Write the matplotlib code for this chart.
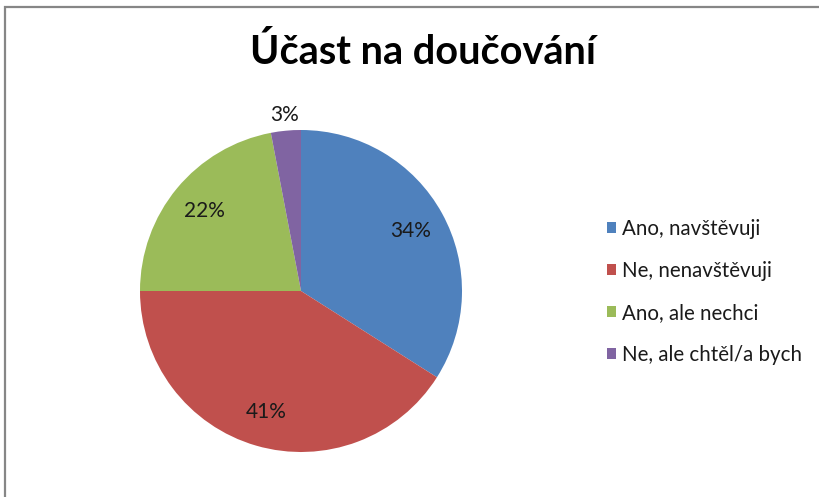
import matplotlib
matplotlib.use("Agg")
import matplotlib.pyplot as plt
import numpy as np
from matplotlib.patches import Rectangle

categories = ["Ano, navštěvuji", "Ne, nenavštěvuji", "Ano, ale nechci", "Ne, ale chtěl/a bych"]
values = [34, 41, 22, 3]
colors = ["#4F81BD", "#C0504D", "#9BBB59", "#8064A2"]
title = "Účast na doučování"

plt.rcParams['font.family'] = ['Lato', 'DejaVu Sans']

W, H = 820, 497
fig = plt.figure(figsize=(W / 100, H / 100), dpi=100)
fig.patch.set_facecolor("white")

# chart border (partially cropped as in reference)
fig.add_artist(Rectangle((5.5 / W, -0.1), 1.2, (H - 6.5) / H + 0.1, transform=fig.transFigure,
                         fill=False, edgecolor="#868686", linewidth=1.6))

cx, cy, r = 301, 291, 161
ax = fig.add_axes([(cx - r) / W, (H - cy - r) / H, 2 * r / W, 2 * r / H])
wedges, texts, autotexts = ax.pie(values, colors=colors, startangle=90, counterclock=False,
                                  radius=1, autopct=lambda p: f"{p:.0f}%", pctdistance=0.78,
                                  textprops=dict(fontsize=15, color="#1a1a1a"),
                                  wedgeprops=dict(linewidth=0))
ax.set_xlim(-1, 1)
ax.set_ylim(-1, 1)
ax.set_aspect("equal")

# small slice label outside
for w, t, v in zip(wedges, autotexts, values):
    if v < 5:
        ang = np.deg2rad((w.theta1 + w.theta2) / 2)
        t.set_position((1.10 * np.cos(ang), 1.10 * np.sin(ang)))

fig.text(423 / W, 1 - 52 / H, title, ha="center", va="center", fontsize=28.5, fontweight="bold",
         color="black")

fs = 14.8
leg = fig.legend(wedges, categories, loc="center left", bbox_to_anchor=(607 / W, 1 - 292 / H),
                 frameon=False, fontsize=fs, handlelength=0.44, handleheight=0.44,
                 handletextpad=0.3, labelspacing=1.07, borderpad=0, borderaxespad=0)
for t in leg.get_texts():
    t.set_color("#1a1a1a")

fig.savefig("out.png", dpi=100)
